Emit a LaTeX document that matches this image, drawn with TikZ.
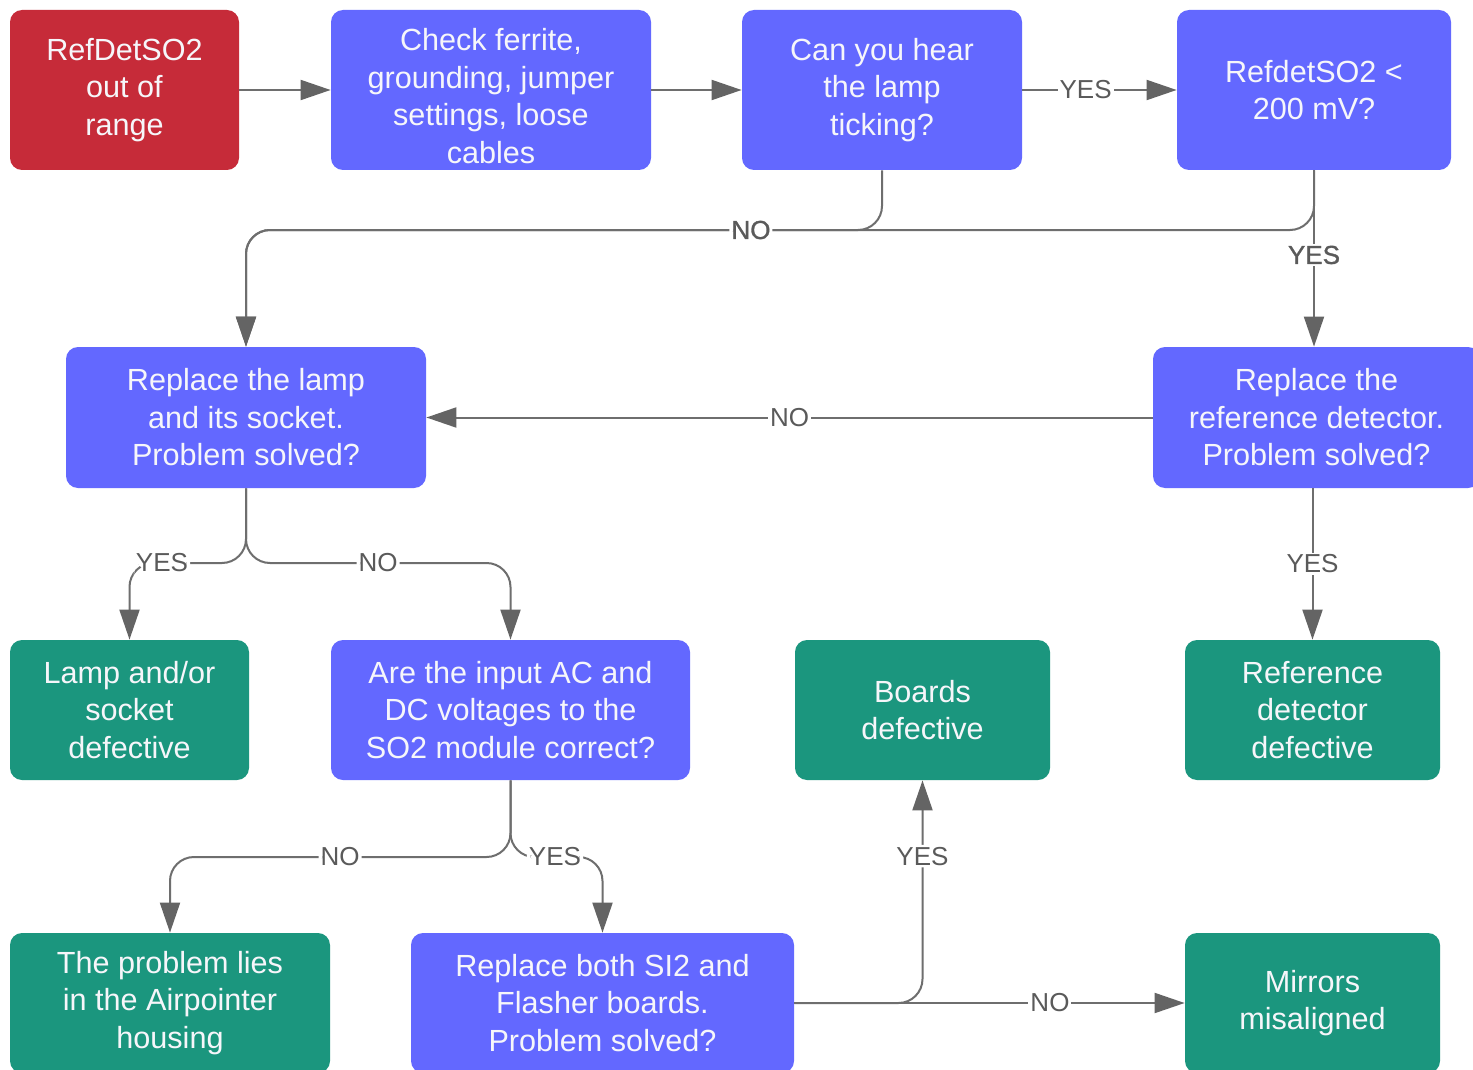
\documentclass[tikz,border=0pt]{standalone}
\usepackage{fontspec}
\setmainfont{Liberation Sans}
\newfontfamily\lblboldfont[FakeBold=1.2]{Liberation Sans}
\usetikzlibrary{arrows.meta}
\definecolor{cred}{RGB}{198,43,57}
\definecolor{cblue}{RGB}{99,104,255}
\definecolor{cgreen}{RGB}{27,150,126}
\definecolor{cline}{RGB}{110,110,110}
\definecolor{ctip}{RGB}{100,100,100}
\definecolor{clbl}{RGB}{90,90,90}
\definecolor{ctext}{RGB}{246,246,250}
\tikzset{
  box/.style={rectangle, rounded corners=6pt, draw=none, text=ctext, align=center,
    font=\fontsize{15.3}{18.75}\selectfont, inner sep=0pt},
  redbox/.style={box, fill=cred},
  bluebox/.style={box, fill=cblue},
  greenbox/.style={box, fill=cgreen},
  sz/.style 2 args={minimum width=#1*0.5pt, minimum height=#2*0.5pt},
  conn/.style={draw=cline, line width=1pt, -{Triangle[length=15pt,width=10pt,color=ctip]}},
  rc/.style={rounded corners=12pt},
  lbl/.style={fill=white, text=clbl, inner sep=1pt, font=\fontsize{13}{15}\selectfont},
  lblb/.style={lbl, font=\fontsize{13}{15}\selectfont\lblboldfont},
}
\begin{document}
\begin{tikzpicture}[x=0.5pt,y=-0.5pt]
\clip (0,0) rectangle (1473,1070);
\fill[white] (0,0) rectangle (1473,1070);

\node[redbox, sz={229}{160}] (b1) at (124.5,90) {RefDetSO2\\out of\\range};
\node[bluebox, sz={320}{160}] (b2) at (491,90) {\rule{0pt}{17pt}Check ferrite,\\grounding, jumper\\settings, loose\\cables};
\node[bluebox, sz={280}{160}] (b3) at (882,90) {Can you hear\\the lamp\\ticking?};
\node[bluebox, sz={274}{160}] (b4) at (1314,90) {RefdetSO2 <\\200 mV?};
\node[bluebox, sz={360}{141}] (b5) at (246,417.5) {Replace the lamp\\and its socket.\\Problem solved?};
\node[bluebox, sz={327}{141}] (b6) at (1316.5,417.5) {Replace the\\reference detector.\\Problem solved?};
\node[greenbox, sz={239}{140}] (b7) at (129.5,710) {Lamp and/or\\socket\\defective};
\node[bluebox, sz={359}{140}] (b8) at (510.5,710) {Are the input AC and\\DC voltages to the\\SO2 module correct?};
\node[greenbox, sz={255}{140}] (b9) at (922.5,710) {Boards\\defective};
\node[greenbox, sz={255}{140}] (b10) at (1312.5,710) {Reference\\detector\\defective};
\node[greenbox, sz={320}{140}] (b11) at (170,1003) {The problem lies\\in the Airpointer\\housing};
\node[bluebox, sz={383}{140}] (b12) at (602.5,1003) {Replace both SI2 and\\Flasher boards.\\Problem solved?};
\node[greenbox, sz={255}{140}] (b13) at (1312.5,1003) {Mirrors\\misaligned};

\draw[conn] (b1.east) -- (b2.west);
\draw[conn] (b2.east) -- (b3.west);
\draw[conn] (b3.east) -- node[lbl,pos=0.41]{YES} (b4.west);
\draw[conn, rc] (b4.south) -- (1314,230) -- (246,230) -- (b5.north);
\draw[conn, rc] (b3.south) -- (882,230) -- node[lblb,pos=0.206]{NO} (246,230) -- (b5.north);
\draw[conn] (b4.south) -- node[lblb,pos=0.48]{YES} (b4.south |- b6.north);
\draw[conn] (b6.west) -- node[lbl]{NO} (b5.east);
\draw[conn, rc] (b5.south) |- (162,563) node[lbl]{YES} -| (b7.north);
\draw[conn, rc] (b5.south) |- (378,563) node[lbl]{NO} -| (b8.north);
\draw[conn] (b10.north |- b6.south) -- node[lbl]{YES} (b10.north);
\draw[conn, rc] (b8.south) |- (340,857) node[lbl]{NO} -| (b11.north);
\draw[conn, rc] (b8.south) |- (555,857) node[lbl]{YES} -| (b12.north);
\draw[conn, rc] (b12.east) -| node[lbl,pos=0.83]{YES} (b9.south);
\draw[conn] (b12.east) -- node[lbl,pos=0.655]{NO} (b13.west);
\end{tikzpicture}
\end{document}
